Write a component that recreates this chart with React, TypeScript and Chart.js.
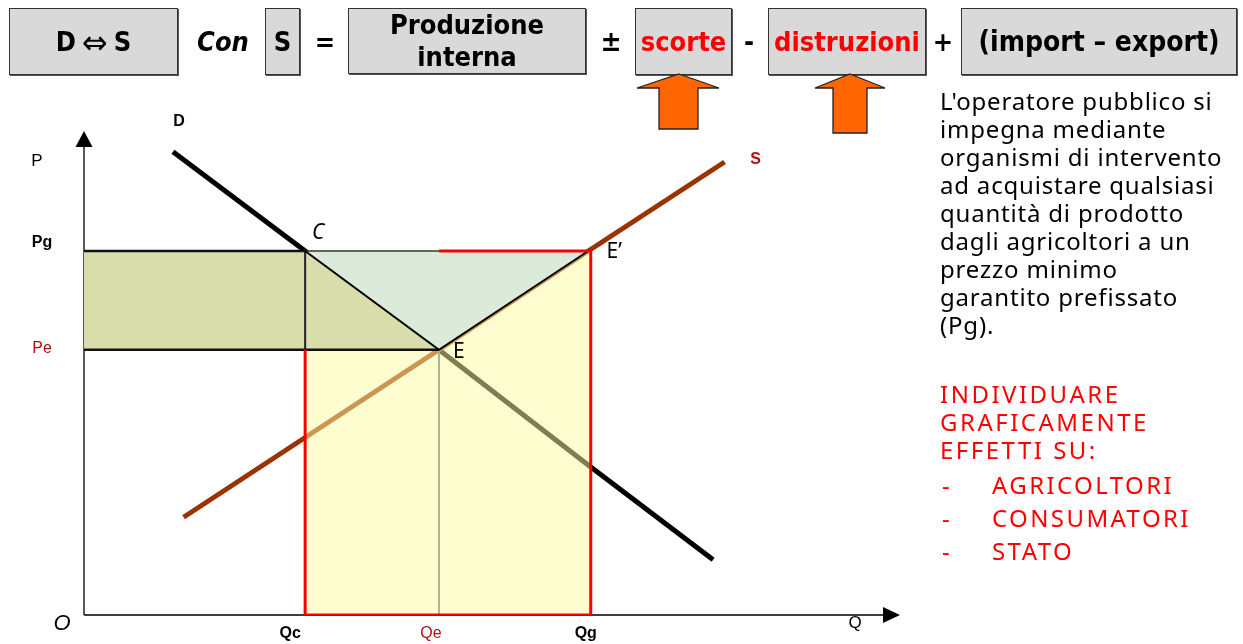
import React, { useEffect, useRef } from "react";
import { Chart, registerables } from "chart.js";

Chart.register(...registerables);

// ---------------- data (chart units: quantity 0–100, price 0–100) ----------------
const priceTicks = [75.2, 54.8]; // Pg, Pe
const priceTickLabels = ["Pg", "Pe"];
const quantityTicks = [27.1, 43.5, 62.1]; // Qc, Qe, Qg
const quantityTickLabels = ["Qc", "Qe", "Qg"];

const demandQ = [10.9, 27.1, 43.5, 62.1, 77.1];
const demandP = [95.7, 75.2, 54.8, 30.6, 11.4];
const supplyQ = [12.2, 43.5, 61.8, 78.5];
const supplyP = [20.2, 54.8, 75.2, 93.6];
const supplyAtPg = 61.8; // point E'

const pointLabels = ["C", "E", "E\u2019"];
const curveLabels = ["D", "S"];
const axisLabels = ["P", "Q", "O"];

const headerTexts = ["D", "\u21d4", "S", "Con", "S", "=", "Produzione", "interna", "\u00b1", "scorte", "-", "distruzioni", "+", "(import \u2013 export)"];
const noteLines = [
  "L'operatore pubblico si",
  "impegna mediante",
  "organismi di intervento",
  "ad acquistare qualsiasi",
  "quantità di prodotto",
  "dagli agricoltori a un",
  "prezzo minimo",
  "garantito prefissato",
  "(Pg).",
];
const taskLines = ["INDIVIDUARE", "GRAFICAMENTE", "EFFETTI SU:"];
const taskItems = ["AGRICOLTORI", "CONSUMATORI", "STATO"];

// ---------------- helpers ----------------
const [Pg, Pe] = priceTicks;
const [Qc, Qe, Qg] = quantityTicks;
const pts = (xs: number[], ys: number[]) => xs.map((x, i) => ({ x, y: ys[i] }));
const P = (x: number, y: number) => ({ x, y });
const NONE = "rgba(0,0,0,0)";

const line = (data: any[], color: string, width: number, order: number, extra: any = {}) => ({
  data,
  borderColor: color,
  borderWidth: width,
  pointRadius: 0,
  tension: 0,
  fill: false,
  order,
  borderCapStyle: "butt",
  borderJoinStyle: "miter",
  ...extra,
});

const DARK_RED = "#b01010";
const SANS = '"Liberation Sans", Arial, sans-serif';
const HAND = '"Noto Sans", "DejaVu Sans", sans-serif';

const axesPlugin = {
  id: "axesArrows",
  beforeDatasetsDraw(chart: any) {
    const { ctx, chartArea: a } = chart;
    ctx.save();
    ctx.strokeStyle = "#000";
    ctx.fillStyle = "#000";
    ctx.lineWidth = 1.3;
    ctx.beginPath();
    ctx.moveTo(a.left, a.bottom);
    ctx.lineTo(a.left, a.top + 14);
    ctx.moveTo(a.left, a.bottom);
    ctx.lineTo(a.right - 15, a.bottom);
    ctx.stroke();
    ctx.beginPath();
    ctx.moveTo(a.left, a.top);
    ctx.lineTo(a.left - 8.5, a.top + 16);
    ctx.lineTo(a.left + 8.5, a.top + 16);
    ctx.closePath();
    ctx.fill();
    ctx.beginPath();
    ctx.moveTo(a.right, a.bottom);
    ctx.lineTo(a.right - 17, a.bottom - 8);
    ctx.lineTo(a.right - 17, a.bottom + 8);
    ctx.closePath();
    ctx.fill();
    ctx.restore();
  },
};

const priceTickStyle = [
  { font: `bold 16px ${SANS}`, color: "#000", dy: -8 },
  { font: `16px ${SANS}`, color: DARK_RED, dy: -1 },
];
const quantityTickStyle = [
  { font: `bold 16px ${SANS}`, color: "#000", dx: -15 },
  { font: `16px ${SANS}`, color: DARK_RED, dx: -8 },
  { font: `bold 16px ${SANS}`, color: "#000", dx: -5 },
];

const labelsPlugin = {
  id: "labels",
  afterDatasetsDraw(chart: any) {
    const { ctx, chartArea: a, scales } = chart;
    const xs = scales.x;
    const ys = scales.y;
    ctx.save();
    ctx.textAlign = "center";
    ctx.textBaseline = "middle";
    const put = (t: string, x: number, y: number, font: string, color: string) => {
      ctx.font = font;
      ctx.fillStyle = color;
      ctx.fillText(t, x, y);
    };
    priceTicks.forEach((v, i) =>
      put(priceTickLabels[i], a.left - 42, ys.getPixelForValue(v) + priceTickStyle[i].dy, priceTickStyle[i].font, priceTickStyle[i].color)
    );
    quantityTicks.forEach((v, i) =>
      put(quantityTickLabels[i], xs.getPixelForValue(v) + quantityTickStyle[i].dx, a.bottom + 19, quantityTickStyle[i].font, quantityTickStyle[i].color)
    );
    // curve names
    put(curveLabels[0], xs.getPixelForValue(demandQ[0]) + 6, ys.getPixelForValue(demandP[0]) - 30, `bold 16px ${SANS}`, "#000");
    const sl = supplyQ.length - 1;
    put(curveLabels[1], xs.getPixelForValue(supplyQ[sl]) + 31, ys.getPixelForValue(supplyP[sl]) - 2, `bold 16px ${SANS}`, DARK_RED);
    // points
    put(pointLabels[0], xs.getPixelForValue(Qc) + 13, ys.getPixelForValue(Pg) - 18, `italic 21px ${HAND}`, "#000");
    put(pointLabels[1], xs.getPixelForValue(Qe) + 20, ys.getPixelForValue(Pe) + 2, `21px ${HAND}`, "#000");
    put(pointLabels[2], xs.getPixelForValue(supplyAtPg) + 26, ys.getPixelForValue(Pg) + 1, `21px ${HAND}`, "#000");
    // axis names
    put(axisLabels[0], a.left - 47, a.top + 30, `17px ${SANS}`, "#000");
    put(axisLabels[1], a.right - 45, a.bottom + 8, `17px ${SANS}`, "#000");
    put(axisLabels[2], a.left - 22, a.bottom + 9, `italic 22px ${SANS}`, "#000");
    ctx.restore();
  },
};

const boxFont = '"DejaVu Sans Condensed", "DejaVu Sans", sans-serif';

const box = (left: number, width: number, height = 67): React.CSSProperties => ({
  position: "absolute",
  left,
  top: 8,
  width,
  height,
  boxSizing: "border-box",
  background: "#d9d9d9",
  border: "1.5px solid #333",
  boxShadow: "1px 1px 0 #555",
  display: "flex",
  alignItems: "center",
  justifyContent: "center",
  textAlign: "center",
  fontFamily: boxFont,
  fontWeight: "bold",
  fontSize: 27,
  color: "#000",
  whiteSpace: "nowrap",
});

const sym = (left: number, width: number, extra: React.CSSProperties = {}): React.CSSProperties => ({
  position: "absolute",
  left,
  top: 8,
  width,
  height: 67,
  display: "flex",
  alignItems: "center",
  justifyContent: "center",
  fontFamily: boxFont,
  fontWeight: "bold",
  fontSize: 27,
  color: "#000",
  ...extra,
});

export default function App() {
  const canvasRef = useRef<HTMLCanvasElement | null>(null);

  useEffect(() => {
    document.body.style.margin = "0";
    const datasets: any[] = [
      line(pts(demandQ, demandP), "#000", 5, 20),
      line(pts(supplyQ, supplyP), "#993300", 5, 19),
      line([P(Qc, Pg), P(Qg, Pg)], NONE, 0, 18, { fill: "origin", backgroundColor: "rgba(251,251,160,0.5)" }),
      line([P(0, Pg), P(Qc, Pg), P(Qe, Pe)], NONE, 0, 17, { fill: { value: Pe }, backgroundColor: "#d8ddab" }),
      line([P(Qc, Pg), P(Qe, Pe), P(supplyAtPg, Pg)], NONE, 0, 16, { fill: { value: Pg }, backgroundColor: "#dcebd9" }),
      line([P(Qe, 0), P(Qe, Pe)], "#b2b28c", 2, 15),
      line([P(0, Pg), P(Qc, Pg)], "#111", 2.5, 14),
      line([P(0, Pe), P(Qe, Pe)], "#111", 2.5, 14),
      line([P(Qc, Pe), P(Qc, Pg)], "#222", 2, 14),
      line([P(Qc, Pg), P(Qe, Pg)], "#333", 1.5, 14),
      line([P(Qc, Pg), P(Qe, Pe), P(supplyAtPg, Pg)], "#000", 2, 13),
      line([P(Qc, Pe), P(Qc, 0), P(Qg, 0), P(Qg, Pg), P(Qe, Pg)], "#ff0000", 3, 12),
    ];
    const chart = new Chart(canvasRef.current as HTMLCanvasElement, {
      type: "line",
      data: { datasets },
      options: {
        responsive: false,
        animation: false,
        events: [],
        layout: { padding: { left: 84, right: 343, top: 131, bottom: 29 } },
        scales: {
          x: { type: "linear", min: 0, max: 100, display: false },
          y: { type: "linear", min: 0, max: 100, display: false },
        },
        plugins: { legend: { display: false }, tooltip: { enabled: false } },
      } as any,
      plugins: [axesPlugin, labelsPlugin],
    });
    return () => chart.destroy();
  }, []);

  const noteStyle: React.CSSProperties = {
    position: "absolute",
    left: 940,
    fontFamily: HAND,
    fontSize: 24,
    letterSpacing: 0.8,
    lineHeight: "28px",
    whiteSpace: "nowrap",
  };

  return (
    <div style={{ position: "fixed", left: 0, top: 0, width: 1243, height: 644, background: "#fff", overflow: "hidden" }}>
      <canvas ref={canvasRef} width={1243} height={644} style={{ position: "absolute", left: 0, top: 0, width: 1243, height: 644 }} />

      <div style={box(9, 169)}>
        <span>{headerTexts[0]}</span>
        <span style={{ fontSize: 34, fontWeight: "normal", margin: "0 6px", lineHeight: "30px" }}>{headerTexts[1]}</span>
        <span>{headerTexts[2]}</span>
      </div>
      <div style={sym(188, 70, { fontStyle: "italic" })}>{headerTexts[3]}</div>
      <div style={box(265, 35)}>{headerTexts[4]}</div>
      <div style={sym(309, 32)}>{headerTexts[5]}</div>
      <div style={{ ...box(348, 238, 66), flexDirection: "column", lineHeight: "32px" }}>
        <span>{headerTexts[6]}</span>
        <span>{headerTexts[7]}</span>
      </div>
      <div style={sym(596, 30, { fontSize: 28 })}>{headerTexts[8]}</div>
      <div style={{ ...box(635, 97), color: "#ff0000" }}>{headerTexts[9]}</div>
      <div style={sym(735, 28)}>{headerTexts[10]}</div>
      <div style={{ ...box(768, 158), color: "#ff0000" }}>{headerTexts[11]}</div>
      <div style={sym(929, 28)}>{headerTexts[12]}</div>
      <div style={{ ...box(961, 276), fontSize: 28 }}>{headerTexts[13]}</div>

      <svg width={1243} height={644} style={{ position: "absolute", left: 0, top: 0, pointerEvents: "none" }}>
        <polygon points="679,74 719,88 698,88 698,129 659,129 659,88 637,88" fill="#ff6600" stroke="#222" strokeWidth={1.3} />
        <polygon points="850,74 885,88 867,88 867,133 833,133 833,88 815,88" fill="#ff6600" stroke="#222" strokeWidth={1.3} />
      </svg>

      <div style={{ ...noteStyle, top: 87, color: "#000" }}>
        {noteLines.map((t, i) => (
          <div key={i}>{t}</div>
        ))}
      </div>
      <div style={{ ...noteStyle, top: 380, color: "#ff0000", letterSpacing: 2.5 }}>
        {taskLines.map((t, i) => (
          <div key={i}>{t}</div>
        ))}
      </div>
      <div style={{ ...noteStyle, top: 468, color: "#ff0000", lineHeight: "33px", letterSpacing: 2.4 }}>
        {taskItems.map((t, i) => (
          <div key={i} style={{ position: "relative" }}>
            <span style={{ position: "absolute", left: 2 }}>-</span>
            <span style={{ marginLeft: 52 }}>{t}</span>
          </div>
        ))}
      </div>
    </div>
  );
}
